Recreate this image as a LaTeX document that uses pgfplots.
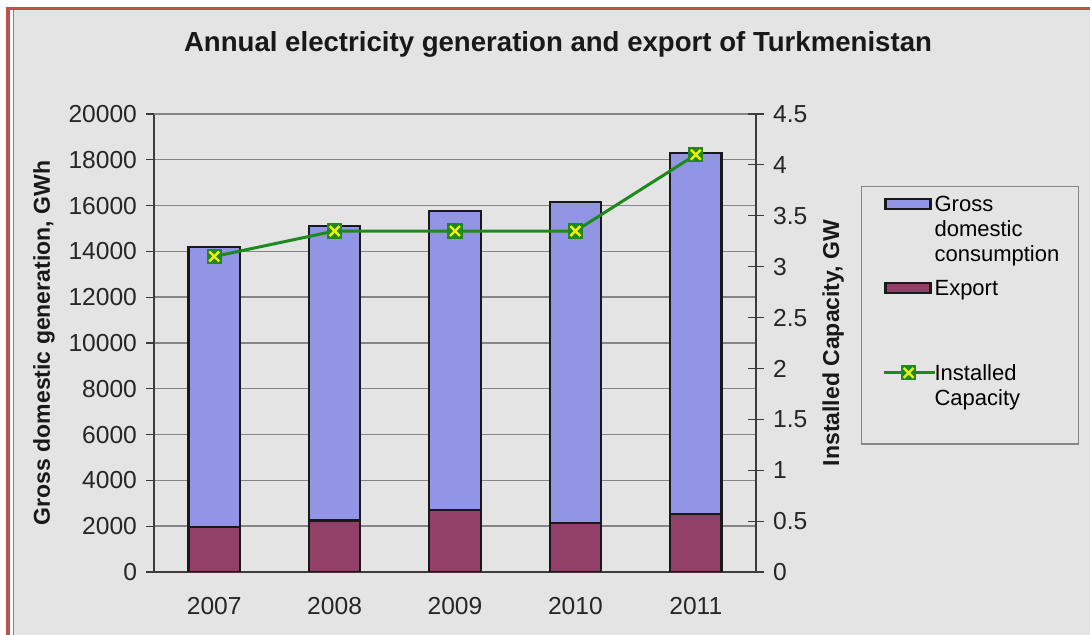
\documentclass[border=0pt]{standalone}
\usepackage{pgfplots}
\pgfplotsset{compat=1.18}
\usepackage{fontspec}
\setmainfont{Liberation Sans}

\definecolor{bggray}{HTML}{E4E4E4}
\definecolor{frame}{HTML}{C0504D}
\definecolor{gdc}{HTML}{9294E4}
\definecolor{expo}{HTML}{934068}
\definecolor{lgreen}{HTML}{1E8A1E}
\definecolor{myellow}{HTML}{F2F200}
\definecolor{gridc}{HTML}{858585}
\definecolor{axc}{HTML}{3C3C3C}

\pgfdeclareplotmark{sqx}{%
  \pgfsetfillcolor{lgreen}%
  \pgfpathrectangle{\pgfpoint{-\pgfplotmarksize}{-\pgfplotmarksize}}{\pgfpoint{2\pgfplotmarksize}{2\pgfplotmarksize}}%
  \pgfusepathqfill
  \pgfsetstrokecolor{myellow}\pgfsetlinewidth{1.2pt}%
  \pgfpathmoveto{\pgfpoint{-.65\pgfplotmarksize}{-.65\pgfplotmarksize}}%
  \pgfpathlineto{\pgfpoint{.65\pgfplotmarksize}{.65\pgfplotmarksize}}%
  \pgfpathmoveto{\pgfpoint{-.65\pgfplotmarksize}{.65\pgfplotmarksize}}%
  \pgfpathlineto{\pgfpoint{.65\pgfplotmarksize}{-.65\pgfplotmarksize}}%
  \pgfusepathqstroke
}

% years 2007..2011 at x = 0..4
\pgfplotstableread{
x gross export
0 12250 1950
1 12850 2250
2 13050 2700
3 14000 2150
4 15750 2550
}\gen
\pgfplotstableread{
x cap
0 3.10
1 3.35
2 3.35
3 3.35
4 4.10
}\capa

\pgfplotsset{
  base/.style={
    scale only axis, width=301pt, height=229pt,
    at={(77pt,31.5pt)}, anchor=south west,
    xmin=-0.5, xmax=4.5,
    /pgf/number format/assume math mode=true,
    tick label style={font=\fontsize{12.3}{14}\selectfont, color=black!85},
    label style={font=\bfseries\fontsize{11.5}{13}\selectfont, color=black!90},
    axis line style={axc, line width=0.6pt},
    major tick style={axc, line width=0.6pt},
  },
  % legend swatch drawn level with the first line of a three-line entry
  barswatch/.style={legend image code/.code={%
    \path[draw=none, fill=none] (0pt,-2.5pt) rectangle (27pt,2.5pt);
    \draw[overlay, fill=#1, draw=black!90, line width=1.1pt] (4.5pt,10.8pt) rectangle (27pt,15.8pt);}},
}

\begin{document}
\begin{tikzpicture}
\path[use as bounding box] (0,0) rectangle (545pt,317.5pt);
\fill[white] (0,0) rectangle (545pt,317.5pt);
\fill[frame] (3pt,312.5pt) rectangle (545pt,314pt);
\fill[frame] (3pt,0) rectangle (5pt,314pt);
\fill[bggray] (7pt,0) rectangle (545pt,312.5pt);
\draw[gridc, line width=0.5pt] (6.75pt,0) -- (6.75pt,312.5pt);

\node[font=\bfseries\fontsize{13.8}{15}\selectfont, color=black!90] at (279pt,295.5pt) {Annual electricity generation and export of Turkmenistan};

\begin{axis}[base,
  ybar stacked, bar width=25.7pt,
  ymin=0, ymax=20000, ytick={0,2000,...,20000},
  scaled y ticks=false,
  yticklabel style={/pgf/number format/1000 sep={}},
  ymajorgrids, grid style={gridc, line width=0.7pt},
  axis x line*=bottom, axis y line*=left,
  xtick={0,...,4}, xticklabels={2007,2008,2009,2010,2011},
  xtick style={draw=none},
  minor xtick={-0.5,0.5,...,4.5},
  minor tick style={axc, line width=0.6pt},
  minor tick length=3pt,
  ytick align=outside, xtick align=outside, major tick length=4pt,
  yticklabel style={xshift=-1pt},
  xticklabel style={yshift=-5pt},
  ylabel={Gross domestic generation, GWh},
  ylabel style={at={(axis description cs:-0.1827,0.5)}, anchor=center},
]
\addplot[fill=expo, draw=black!90, line width=1.1pt] table[x=x, y=export] {\gen};
\addplot[fill=gdc, draw=black!90, line width=1.1pt] table[x=x, y=gross] {\gen};
\draw[gridc, line width=0.7pt] (rel axis cs:0,1) -- (rel axis cs:1,1);
\end{axis}

\begin{axis}[base,
  axis x line=none, axis y line*=right,
  ymin=0, ymax=4.5, ytick={0,0.5,...,4.5},
  ytick align=center, major tick length=8pt,
  yticklabel style={xshift=1pt},
  ylabel={Installed Capacity, GW},
  ylabel style={at={(axis description cs:1.128,0.5)}, anchor=center},
  legend cell align=left,
  legend style={at={(axis description cs:1.1744,0.843)}, anchor=north west,
    fill=bggray, draw=gridc, line width=0.6pt,
    font=\fontsize{11}{12.5}\selectfont,
    cells={align=left},
    inner xsep=7.5pt, inner ysep=3pt, row sep=4pt},
]
\addlegendimage{barswatch=gdc}
\addlegendentry{Gross\\domestic\\consumption}
\addlegendimage{barswatch=expo}
\addlegendentry{Export\\\mbox{}\\\mbox{}}
\addplot[lgreen, line width=1.5pt, mark=sqx, mark size=3.8pt,
  legend image code/.code={%
    \path[draw=none, fill=none] (0pt,-2.5pt) rectangle (27pt,2.5pt);
    \draw[overlay, lgreen, line width=1.5pt] (3.5pt,13.3pt) -- (29pt,13.3pt);
    \begin{scope}[overlay, shift={(16pt,13.3pt)}]\pgfsetplotmarksize{3.8pt}\pgfuseplotmark{sqx}\end{scope}}]
  table[x=x, y=cap] {\capa};
\addlegendentry{Installed\\Capacity\\\mbox{}}
\end{axis}
\end{tikzpicture}
\end{document}
